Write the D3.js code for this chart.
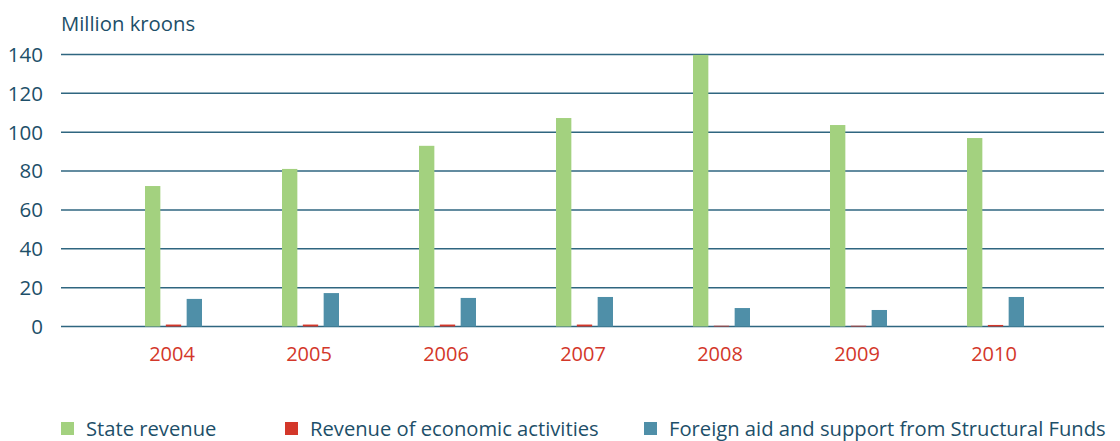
<!DOCTYPE html>
<html><head><meta charset="utf-8">
<script src="https://cdn.jsdelivr.net/npm/d3@7"></script>
<style>body{margin:0;background:#fff}svg{display:block}text{font-family:"Open Sans",sans-serif}</style>
</head><body><svg id="c" width="1120" height="441"></svg>
<script>
const years = ["2004","2005","2006","2007","2008","2009","2010"];
const seriesNames = ["State revenue","Revenue of economic activities","Foreign aid and support from Structural Funds"];
const stateRevenue = [72.3, 81.1, 93, 107.3, 139.8, 103.7, 97];
const economicRevenue = [1, 1, 1, 1, 0.4, 0.4, 0.8];
const foreignAid = [14.2, 17.2, 14.7, 15.2, 9.5, 8.5, 15.2];
const yTicks = [0,20,40,60,80,100,120,140];
const colors = ["#a3d17f","#d3372a","#4f8fa8"];
const series = [stateRevenue, economicRevenue, foreignAid];

const svg = d3.select("#c");
const textCol = "#1d4f69";
const y = d3.scaleLinear().domain([0,140]).range([326.5,54.5]);
const x = d3.scaleBand().domain(years).range([102.5,1061.5]).paddingInner(0).paddingOuter(0);
const inner = d3.scaleBand().domain([0,1,2]).range([-26,31]).paddingInner(5/19).paddingOuter(0);

const gridL = 61, gridR = 1104;
svg.append("g").selectAll("line").data(yTicks).join("line")
  .attr("x1",gridL).attr("x2",gridR)
  .attr("y1",d=>y(d)).attr("y2",d=>y(d))
  .attr("stroke","#2f6680").attr("stroke-width",1.5);

svg.append("g").selectAll("text").data(yTicks).join("text")
  .attr("x",43).attr("y",d=>y(d)).attr("dy","0.36em")
  .attr("text-anchor","end").attr("font-size",20.5).attr("fill",textCol)
  .text(d=>d);

svg.append("text").attr("x",61).attr("y",31).attr("font-size",20.3).attr("fill",textCol).text("Million kroons");

series.forEach((vals,si)=>{
  svg.append("g").selectAll("rect").data(vals).join("rect")
    .attr("x",(d,i)=>x(years[i])+x.bandwidth()/2+inner(si))
    .attr("width",inner.bandwidth())
    .attr("y",d=>y(d)).attr("height",d=>y(0)-y(d))
    .attr("fill",colors[si]);
});

svg.append("g").selectAll("text").data(years).join("text")
  .attr("x",d=>x(d)+x.bandwidth()/2+1).attr("y",361)
  .attr("text-anchor","middle").attr("font-size",20).attr("fill","#d3372a")
  .text(d=>d);

const legX = [61, 285, 644];
const lg = svg.append("g");
seriesNames.forEach((n,i)=>{
  lg.append("rect").attr("x",legX[i]).attr("y",422).attr("width",13).attr("height",13).attr("fill",colors[i]);
  lg.append("text").attr("x",legX[i]+25).attr("y",436).attr("font-size",20.2).attr("fill",textCol).text(n);
});
</script></body></html>
